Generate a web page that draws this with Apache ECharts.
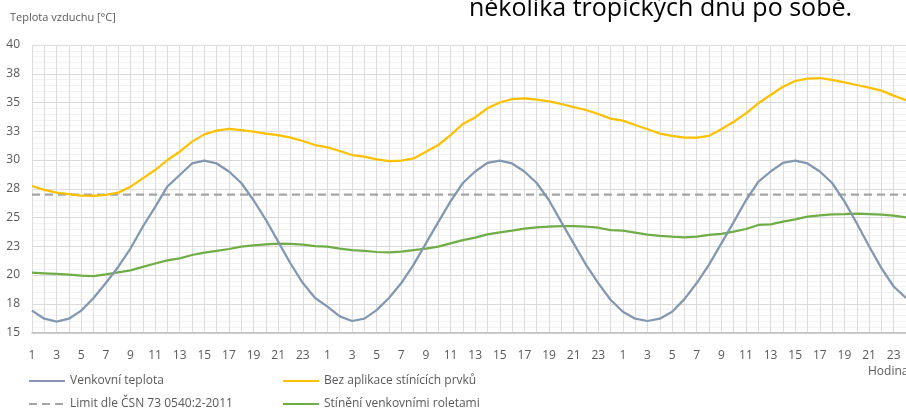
<!DOCTYPE html>
<html>
<head>
<meta charset="utf-8">
<script src="https://cdn.jsdelivr.net/npm/echarts@6/dist/echarts.min.js"></script>
<style>html,body{margin:0;padding:0;background:#fff;}#c{width:906px;height:408px;}</style>
</head>
<body>
<div id="c"></div>
<script>
const hours = [1,2,3,4,5,6,7,8,9,10,11,12,13,14,15,16,17,18,19,20,21,22,23,24];
const categories = hours.concat(hours, hours);

const venkovni = [
  16.9, 16.2, 15.95, 16.2, 16.9, 18.0, 19.3, 20.7, 22.3, 24.2, 25.9, 27.7, 28.7, 29.7, 29.95, 29.7, 29.0, 28.0, 26.5, 24.8, 22.9, 21.0, 19.3, 18.0,
  17.25, 16.4, 16.0, 16.2, 16.95, 18.0, 19.3, 20.9, 22.75, 24.6, 26.4, 28.0, 29.0, 29.75, 29.95, 29.7, 29.0, 28.0, 26.5, 24.6, 22.75, 20.9, 19.3, 17.85,
  16.8, 16.2, 16.0, 16.2, 16.8, 17.9, 19.3, 20.9, 22.75, 24.6, 26.5, 28.1, 29.0, 29.75, 29.95, 29.7, 29.0, 28.0, 26.4, 24.5, 22.5, 20.6, 19.0, 18.0
];
const bezStineni = [
  27.74, 27.4, 27.16, 27.04, 26.9, 26.87, 26.96, 27.16, 27.68, 28.4, 29.13, 30.0, 30.72, 31.6, 32.23, 32.55, 32.7, 32.6, 32.46, 32.3, 32.17, 31.94, 31.65, 31.3,
  31.1, 30.78, 30.43, 30.3, 30.06, 29.9, 29.94, 30.14, 30.72, 31.3, 32.17, 33.13, 33.7, 34.5, 35.0, 35.3, 35.36, 35.25, 35.1, 34.87, 34.6, 34.35, 34.0, 33.6,
  33.42, 33.04, 32.67, 32.3, 32.1, 31.94, 31.94, 32.1, 32.67, 33.33, 34.06, 34.93, 35.65, 36.37, 36.87, 37.07, 37.13, 36.96, 36.75, 36.52, 36.3, 36.03, 35.6, 35.2
];
const rolety = [
  20.2, 20.15, 20.09, 20.03, 19.94, 19.91, 20.06, 20.23, 20.4, 20.7, 21.0, 21.27, 21.45, 21.74, 21.94, 22.1, 22.26, 22.46, 22.58, 22.67, 22.73, 22.7, 22.64, 22.52,
  22.46, 22.3, 22.17, 22.09, 22.0, 21.97, 22.03, 22.17, 22.3, 22.46, 22.75, 23.04, 23.25, 23.54, 23.71, 23.85, 24.03, 24.14, 24.2, 24.26, 24.26, 24.2, 24.11, 23.91,
  23.85, 23.68, 23.51, 23.4, 23.33, 23.28, 23.33, 23.48, 23.57, 23.77, 24.0, 24.35, 24.4, 24.64, 24.84, 25.07, 25.19, 25.28, 25.3, 25.33, 25.3, 25.25, 25.16, 25.0
];
const limitValue = 27;
const limitValues = categories.map(() => limitValue);

const yTicks = {min: 15, max: 40, interval: 2.5};

const FONT = 'Open Sans';
const TXT = '#595959';

const chart = echarts.init(document.getElementById('c'), null, {renderer: 'canvas'});
const legendBase = {orient: 'horizontal', itemWidth: 36, itemHeight: 10, padding: 0,
  itemStyle: {opacity: 0},
  textStyle: {color: TXT, fontFamily: FONT, fontSize: 12}, selectedMode: false};
chart.setOption({
  animation: false,
  grid: {left: 32, top: 45, width: 877, height: 287.5, containLabel: false},
  graphic: [
    {type: 'text', left: 10, top: 12, style: {text: 'Teplota vzduchu [°C]', fill: TXT, font: '11px "Open Sans"'}},
    {type: 'text', left: 469, top: -4, style: {text: 'několika tropických dnů po sobě.', fill: '#000', font: '25px "Open Sans"'}},
    {type: 'text', left: 868, top: 366, style: {text: 'Hodina', fill: TXT, font: '12px "Open Sans"'}}
  ],
  legend: [
    Object.assign({}, legendBase, {left: 28, top: 375, data: ['Venkovní teplota']}),
    Object.assign({}, legendBase, {left: 282, top: 375, data: ['Bez aplikace stínících prvků']}),
    Object.assign({}, legendBase, {left: 28, top: 398, data: ['Limit dle ČSN 73 0540:2-2011']}),
    Object.assign({}, legendBase, {left: 282, top: 398, data: ['Stínění venkovními roletami']})
  ],
  xAxis: {
    type: 'category', data: categories, boundaryGap: false,
    axisLine: {lineStyle: {color: '#bfbfbf', width: 1.5}},
    axisTick: {show: false},
    axisLabel: {interval: 1, color: TXT, fontFamily: FONT, fontSize: 12, margin: 17},
    splitLine: {show: true, interval: 0, lineStyle: {color: '#dcdcdc', width: 1}}
  },
  yAxis: {
    type: 'value', min: yTicks.min, max: yTicks.max, interval: yTicks.interval,
    axisLine: {show: false}, axisTick: {show: false},
    axisLabel: {color: TXT, fontFamily: FONT, fontSize: 12, margin: 12, formatter: v => String(Math.round(v))},
    splitLine: {lineStyle: {color: '#d9d9d9', width: 1}},
    minorTick: {show: false, splitNumber: 5},
    minorSplitLine: {show: true, lineStyle: {color: '#f2f2f2', width: 1}}
  },
  series: [
    {name: 'Venkovní teplota', type: 'line', data: venkovni, symbol: 'none', lineStyle: {color: '#8497b0', width: 2.25}, itemStyle: {color: '#8497b0'}, z: 4},
    {name: 'Bez aplikace stínících prvků', type: 'line', data: bezStineni, symbol: 'none', lineStyle: {color: '#ffc000', width: 2.25}, itemStyle: {color: '#ffc000'}, z: 3},
    {name: 'Limit dle ČSN 73 0540:2-2011', type: 'line', data: limitValues, symbol: 'none', lineStyle: {color: '#a5a5a5', width: 2.25, type: [8, 5]}, itemStyle: {color: '#a5a5a5'}, z: 2},
    {name: 'Stínění venkovními roletami', type: 'line', data: rolety, symbol: 'none', lineStyle: {color: '#70ad47', width: 2.25}, itemStyle: {color: '#70ad47'}, z: 3}
  ]
});
</script>
</body>
</html>
